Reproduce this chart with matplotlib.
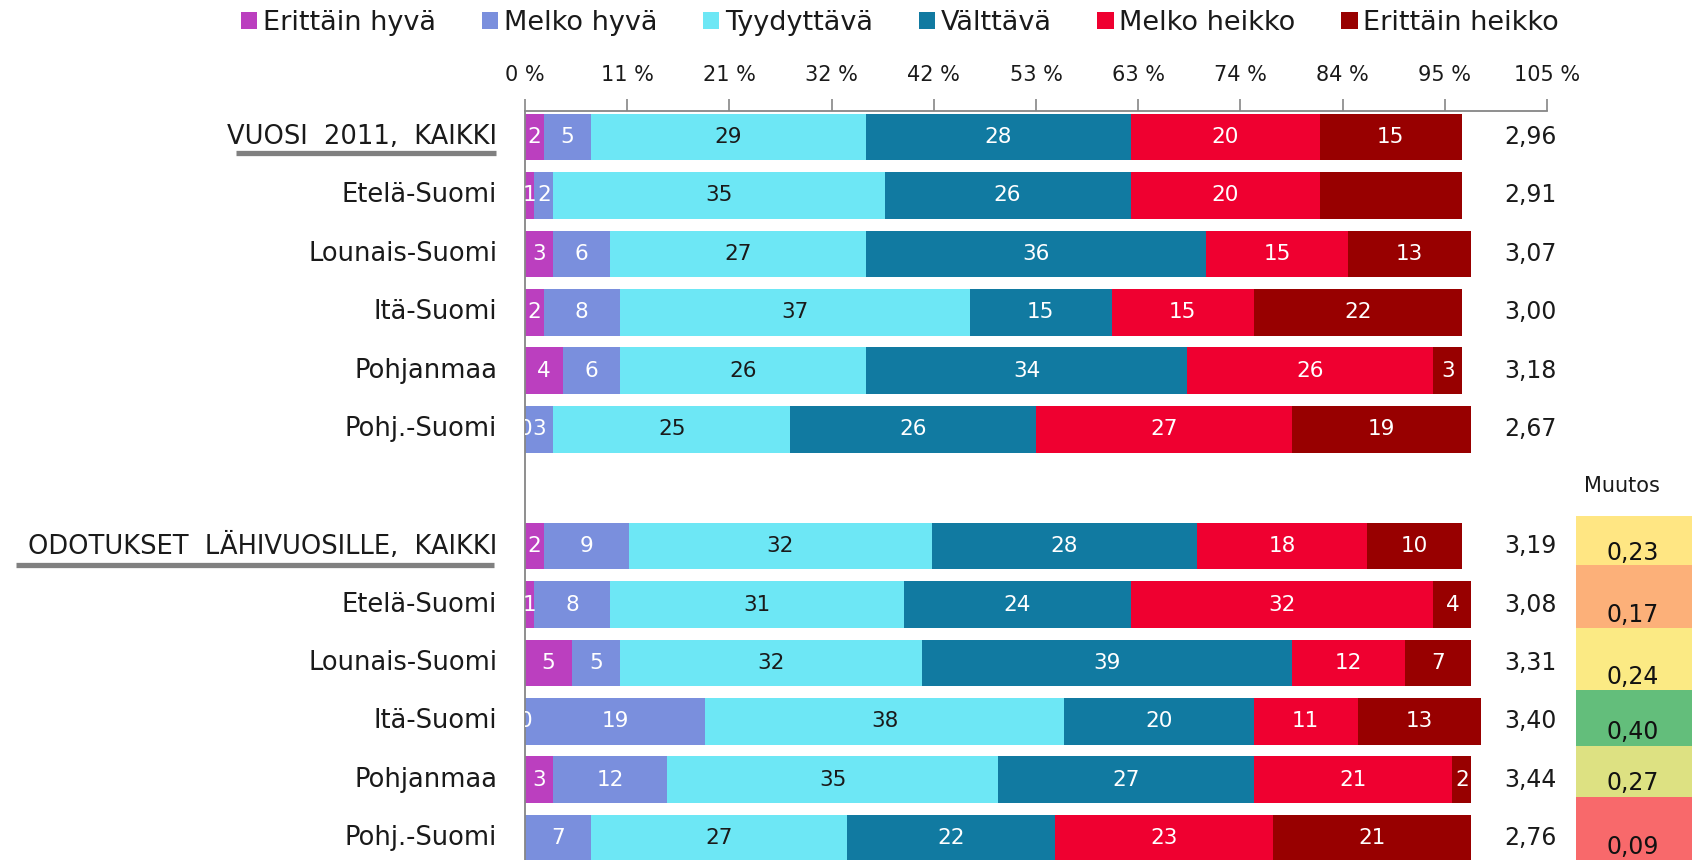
import numpy as np
import matplotlib
matplotlib.use("Agg")
import matplotlib.pyplot as plt
from matplotlib.patches import Patch, Rectangle
from matplotlib.lines import Line2D
from matplotlib.colors import LinearSegmentedColormap, TwoSlopeNorm
from matplotlib.transforms import blended_transform_factory

# --- data ---
series = ["Erittäin hyvä", "Melko hyvä", "Tyydyttävä", "Välttävä", "Melko heikko", "Erittäin heikko"]
rows = ["VUOSI  2011,  KAIKKI", "Etelä-Suomi", "Lounais-Suomi", "Itä-Suomi", "Pohjanmaa", "Pohj.-Suomi",
        "ODOTUKSET  LÄHIVUOSILLE,  KAIKKI", "Etelä-Suomi", "Lounais-Suomi", "Itä-Suomi", "Pohjanmaa", "Pohj.-Suomi"]

erittain_hyva = [2, 1, 3, 2, 4, 0, 2, 1, 5, 0, 3, 0]
melko_hyva = [5, 2, 6, 8, 6, 3, 9, 8, 5, 19, 12, 7]
tyydyttava = [29, 35, 27, 37, 26, 25, 32, 31, 32, 38, 35, 27]
valttava = [28, 26, 36, 15, 34, 26, 28, 24, 39, 20, 27, 22]
melko_heikko = [20, 20, 15, 15, 26, 27, 18, 32, 12, 11, 21, 23]
erittain_heikko = [15, 15, 13, 22, 3, 19, 10, 4, 7, 13, 2, 21]

keskiarvo = [2.96, 2.91, 3.07, 3.00, 3.18, 2.67, 3.19, 3.08, 3.31, 3.40, 3.44, 2.76]
muutos = [0.23, 0.17, 0.24, 0.40, 0.27, 0.09]

tick_labels = ["0 %", "11 %", "21 %", "32 %", "42 %", "53 %", "63 %", "74 %", "84 %", "95 %", "105 %"]

# labels that the original chart does not show (row, series)
hidden = {(1, 5), (11, 0)}

# --- styling / layout ---
colors = ["#BB3FBF", "#7A8FDD", "#6DE7F5", "#117AA1", "#EF0030", "#980000"]
label_colors = ["white", "white", "#1a1a1a", "white", "white", "white"]
y_pos = np.r_[0:6, 7:13]
AXIS_MAX = 108

W, H = 1692, 860
fig = plt.figure(figsize=(W / 100, H / 100), dpi=100)


def fx(px):
    return px / W


def fy(py):
    return 1 - py / H


ax = fig.add_axes([fx(525), 0, fx(1547) - fx(525), fy(111)])

data = [erittain_hyva, melko_hyva, tyydyttava, valttava, melko_heikko, erittain_heikko]
left = np.zeros(len(rows))
for k, (name, vals, col, tcol) in enumerate(zip(series, data, colors, label_colors)):
    vals = np.array(vals, dtype=float)
    ax.barh(y_pos, vals, left=left, height=0.8, color=col, label=name)
    for i, (y, v, l) in enumerate(zip(y_pos, vals, left)):
        if (i, k) in hidden:
            continue
        ax.text(l + v / 2, y, f"{v:.0f}", ha="center", va="center", color=tcol,
                fontsize=15.5, clip_on=True)
    left += vals

ax.set_xlim(0, AXIS_MAX)
ax.set_ylim(12.372, -0.445)
ax.xaxis.tick_top()
ax.set_xticks(np.linspace(0, AXIS_MAX, len(tick_labels)))
ax.set_xticklabels(tick_labels)
ax.tick_params(axis="x", direction="out", length=9, width=1.2, color="#868686",
               pad=10, labelsize=15, labelcolor="#1a1a1a")
ax.set_yticks([])
for s in ["right", "bottom"]:
    ax.spines[s].set_visible(False)
for s in ["top", "left"]:
    ax.spines[s].set_color("#868686")
    ax.spines[s].set_linewidth(1.3)

# category labels + underlined group headers
trans = blended_transform_factory(fig.transFigure, ax.transData)
for y, name in zip(y_pos, rows):
    fig.text(fx(497), y, name, transform=trans, ha="right", va="center",
             fontsize=18.5, color="#1a1a1a")
underlines = {0: (236, 496, 16), 7: (16, 494, 19)}  # row -> x0, x1, px below centre
for y, (x0, x1, off) in underlines.items():
    yc = ax.transData.transform((0, y))[1]
    yy = (yc - off) / H
    fig.add_artist(Line2D([fx(x0), fx(x1)], [yy, yy], transform=fig.transFigure,
                          color="#808080", linewidth=3.8, solid_capstyle="butt"))

# mean values column
for y, v in zip(y_pos, keskiarvo):
    fig.text(fx(1530), y, f"{v:.2f}".replace(".", ","), transform=trans, ha="center",
             va="center", fontsize=17, color="#1a1a1a")

# Muutos column (Excel-like colour scale)
fig.text(fx(1622), fy(486), "Muutos", ha="center", va="center", fontsize=15, color="#1a1a1a")
cmap = LinearSegmentedColormap.from_list("scale", ["#F8696B", "#FFEB84", "#63BE7B"])
norm = TwoSlopeNorm(vmin=min(muutos), vcenter=np.percentile(muutos, 50), vmax=max(muutos))
cell_edges = [516, 565, 628, 690, 746, 797, 880]
cell_text_y = [553, 615, 677, 732, 783, 847]
for j, v in enumerate(muutos):
    top, bot = cell_edges[j], cell_edges[j + 1]
    fig.add_artist(Rectangle((fx(1576), fy(bot)), fx(1692) - fx(1576), (bot - top) / H,
                             transform=fig.transFigure, facecolor=cmap(norm(v)), edgecolor="none"))
    fig.text(fx(1633), fy(cell_text_y[j]), f"{v:.2f}".replace(".", ","), ha="center",
             va="center", fontsize=17, color="#111111")

handles = [Patch(facecolor=c, edgecolor="none") for c in colors]
fig.legend(handles, series, loc="center", bbox_to_anchor=(fx(900), fy(23)), ncol=6,
           frameon=False, fontsize=19.5, handlelength=0.6, handleheight=0.6,
           handletextpad=0.2, columnspacing=1.7, borderaxespad=0, labelcolor="#1a1a1a")

fig.savefig("out.png", dpi=100)
